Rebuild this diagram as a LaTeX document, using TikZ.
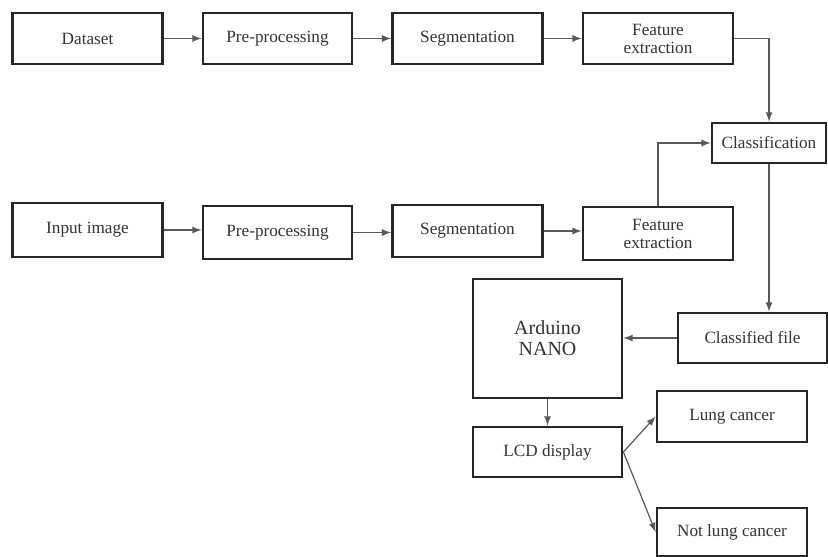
\documentclass[tikz,border=0pt]{standalone}
\usepackage{fontspec}
\setmainfont{Liberation Serif}
\usepackage{tikz}
\tikzstyle{block}=[draw=black!85, line width=1.4pt, align=center,
    minimum width=75pt, minimum height=25.5pt, inner sep=1pt,
    text=black!80, font=\fontsize{8.6}{9}\selectfont]
\tikzstyle{link}=[->, >=latex, draw=black!65, line width=0.6pt]

\begin{document}
\begin{tikzpicture}[x=0.5pt,y=-0.5pt]
  \useasboundingbox (0,0) rectangle (828,556);
  % training path
  \node[block] at (87.5,38.5) (data) {Dataset};
  \node[block, minimum width=74.5pt] at (277.5,38.5) (pre1) {Pre-processing};
  \node[block] at (467.5,38.5) (seg1) {Segmentation};
  \node[block] at (658,38.5) (feat1) {Feature\\extraction};
  \node[block, minimum width=57pt, minimum height=20pt] at (769,143) (cls) {Classification};

  % testing path
  \node[block, minimum height=27pt] at (87.5,230) (input) {Input image};
  \node[block, minimum width=74.5pt, minimum height=26.5pt] at (277.5,232.5) (pre2) {Pre-processing};
  \node[block, minimum height=26pt] at (467.5,231) (seg2) {Segmentation};
  \node[block, minimum height=26.5pt] at (658,233.5) (feat2) {Feature\\extraction};

  % hardware part
  \node[block, minimum width=74.5pt, minimum height=25pt] at (752.5,338) (cfile) {Classified file};
  \node[block, minimum width=74.5pt, minimum height=59.5pt,
        font=\fontsize{10}{10.5}\selectfont] at (547.5,338.5) (ard) {Arduino\\NANO};
  \node[block, minimum width=74.5pt, minimum height=25pt] at (547.5,452) (lcd) {LCD display};
  \node[block] at (732,416.5) (lung) {Lung cancer};
  \node[block, minimum height=24pt] at (732,532) (nolung) {Not lung cancer};

  \draw[link] (data) -- (pre1);
  \draw[link] (pre1) -- (seg1);
  \draw[link] (seg1) -- (feat1);
  \draw[link] (feat1.east) -| (cls.north);

  \draw[link] (input) -- (pre2.west |- input);
  \draw[link] (pre2) -- (seg2.west |- pre2);
  \draw[link] (seg2) -- (feat2.west |- seg2);
  \draw[link] (feat2.north) |- (cls.west);

  \draw[link] (cls) -- (cls |- cfile.north);
  \draw[link] (cfile) -- (ard.east |- cfile);
  \draw[link] (ard) -- (lcd);
  \draw[link] (lcd.east) -- (lung.west);
  \draw[link] (lcd.east) -- (nolung.west);
\end{tikzpicture}
\end{document}
